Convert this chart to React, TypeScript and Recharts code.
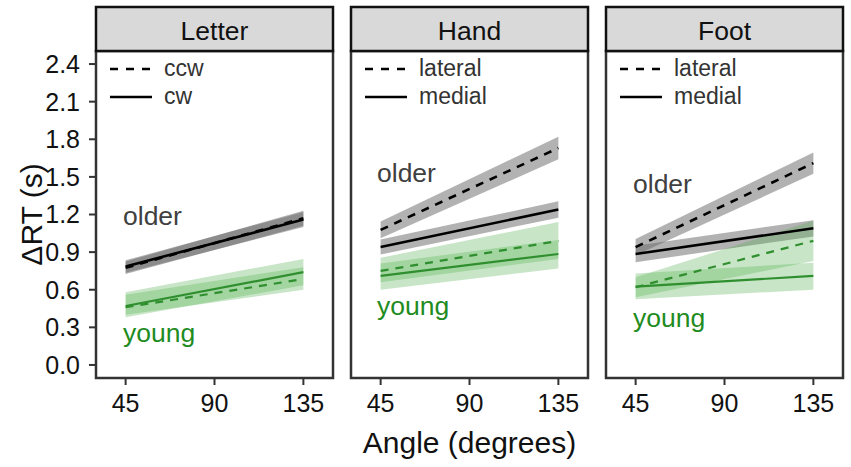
import React from 'react';
import { ComposedChart, Line, Area, XAxis, YAxis } from 'recharts';

const angles = [45, 135];
const xTicks = [45, 90, 135];
const yTicks = [0, 0.3, 0.6, 0.9, 1.2, 1.5, 1.8, 2.1, 2.4];
const panelNames = ['Letter', 'Hand', 'Foot'];
const legendDashed = ['ccw', 'lateral', 'lateral'];
const legendSolid = ['cw', 'medial', 'medial'];

// Letter (dashed = ccw, solid = cw)
const letterOlderDash = [0.775, 1.17];
const letterOlderDashLo = [0.725, 1.11];
const letterOlderDashHi = [0.825, 1.23];
const letterOlderSolid = [0.785, 1.16];
const letterOlderSolidLo = [0.735, 1.10];
const letterOlderSolidHi = [0.835, 1.22];
const letterYoungDash = [0.46, 0.685];
const letterYoungDashLo = [0.40, 0.60];
const letterYoungDashHi = [0.56, 0.78];
const letterYoungSolid = [0.47, 0.74];
const letterYoungSolidLo = [0.38, 0.635];
const letterYoungSolidHi = [0.58, 0.845];

// Hand (dashed = lateral, solid = medial)
const handOlderDash = [1.077, 1.73];
const handOlderDashLo = [1.01, 1.64];
const handOlderDashHi = [1.145, 1.82];
const handOlderSolid = [0.94, 1.24];
const handOlderSolidLo = [0.88, 1.175];
const handOlderSolidHi = [1.0, 1.305];
const handYoungDash = [0.75, 0.99];
const handYoungDashLo = [0.66, 0.845];
const handYoungDashHi = [0.855, 1.14];
const handYoungSolid = [0.71, 0.885];
const handYoungSolidLo = [0.60, 0.77];
const handYoungSolidHi = [0.81, 0.997];

// Foot (dashed = lateral, solid = medial)
const footOlderDash = [0.94, 1.61];
const footOlderDashLo = [0.875, 1.525];
const footOlderDashHi = [1.005, 1.695];
const footOlderSolid = [0.885, 1.09];
const footOlderSolidLo = [0.82, 1.025];
const footOlderSolidHi = [0.95, 1.155];
const footYoungDash = [0.62, 0.99];
const footYoungDashLo = [0.54, 0.83];
const footYoungDashHi = [0.70, 1.15];
const footYoungSolid = [0.625, 0.71];
const footYoungSolidLo = [0.525, 0.60];
const footYoungSolidHi = [0.73, 0.815];

type Series = Record<string, number[]>;
const buildRows = (s: Series) =>
  angles.map((a, i) => {
    const row: Record<string, number> = { angle: a };
    Object.keys(s).forEach((k) => (row[k] = s[k][i]));
    return row;
  });

const panelData = [
  buildRows({
    od: letterOlderDash, odLo: letterOlderDashLo, odHi: letterOlderDashHi,
    os: letterOlderSolid, osLo: letterOlderSolidLo, osHi: letterOlderSolidHi,
    yd: letterYoungDash, ydLo: letterYoungDashLo, ydHi: letterYoungDashHi,
    ys: letterYoungSolid, ysLo: letterYoungSolidLo, ysHi: letterYoungSolidHi,
  }),
  buildRows({
    od: handOlderDash, odLo: handOlderDashLo, odHi: handOlderDashHi,
    os: handOlderSolid, osLo: handOlderSolidLo, osHi: handOlderSolidHi,
    yd: handYoungDash, ydLo: handYoungDashLo, ydHi: handYoungDashHi,
    ys: handYoungSolid, ysLo: handYoungSolidLo, ysHi: handYoungSolidHi,
  }),
  buildRows({
    od: footOlderDash, odLo: footOlderDashLo, odHi: footOlderDashHi,
    os: footOlderSolid, osLo: footOlderSolidLo, osHi: footOlderSolidHi,
    yd: footYoungDash, ydLo: footYoungDashLo, ydHi: footYoungDashHi,
    ys: footYoungSolid, ysLo: footYoungSolidLo, ysHi: footYoungSolidHi,
  }),
];

// layout
const W = 851;
const H = 467;
const panelLeft = [96, 351, 606];
const panelRight = [333, 588, 843];
const plotTop = 51;
const plotBottom = 378;
const stripTop = 7;
const xAxisH = 30;
const yAxisW = 60;
const FONT = '"Liberation Sans", Arial, Helvetica, sans-serif';

const olderLabelPos = [
  [123, 225],
  [377, 182],
  [633, 193],
];
const youngLabelPos = [
  [123, 342],
  [377, 315],
  [633, 327],
];

const GRAY_FILL = '#666666';
const GREEN_FILL = '#4daf4a';
const GREEN_LINE = '#2f8f2f';
const GREEN_TEXT = '#1f8c1f';
const DASH = '8 7';

function Panel({ i }: { i: number }) {
  const data = panelData[i];
  const L = panelLeft[i];
  const R = panelRight[i];
  const margin = {
    top: plotTop,
    bottom: H - plotBottom - xAxisH,
    left: i === 0 ? L - yAxisW : L,
    right: W - R,
  };
  return (
    <div style={{ position: 'absolute', left: 0, top: 0 }}>
      <ComposedChart width={W} height={H} data={data} margin={margin}>
        <XAxis
          dataKey="angle"
          type="number"
          domain={[30, 150]}
          ticks={xTicks}
          interval={0}
          allowDataOverflow
          height={xAxisH}
          axisLine={false}
          tickSize={7}
          tickMargin={9}
          tickLine={{ stroke: '#333', strokeWidth: 2 }}
          tick={{ fill: '#111', fontSize: 25, fontFamily: FONT }}
        />
        <YAxis
          type="number"
          domain={[-0.104, 2.504]}
          ticks={yTicks}
          interval={0}
          allowDataOverflow
          hide={i !== 0}
          width={yAxisW}
          axisLine={false}
          tickSize={7}
          tickMargin={9}
          tickLine={{ stroke: '#333', strokeWidth: 2 }}
          tick={{ fill: '#111', fontSize: 25, fontFamily: FONT }}
          tickFormatter={(v: number) => v.toFixed(1)}
        />
        <Area type="linear" dataKey={(d: any) => [d.odLo, d.odHi]} stroke="none" fill={GRAY_FILL} fillOpacity={0.5} isAnimationActive={false} />
        <Area type="linear" dataKey={(d: any) => [d.osLo, d.osHi]} stroke="none" fill={GRAY_FILL} fillOpacity={0.5} isAnimationActive={false} />
        <Area type="linear" dataKey={(d: any) => [d.ydLo, d.ydHi]} stroke="none" fill={GREEN_FILL} fillOpacity={0.31} isAnimationActive={false} />
        <Area type="linear" dataKey={(d: any) => [d.ysLo, d.ysHi]} stroke="none" fill={GREEN_FILL} fillOpacity={0.31} isAnimationActive={false} />
        <Line type="linear" dataKey="od" stroke="#000" strokeWidth={2.6} strokeDasharray={DASH} dot={false} isAnimationActive={false} />
        <Line type="linear" dataKey="os" stroke="#000" strokeWidth={2.6} dot={false} isAnimationActive={false} />
        <Line type="linear" dataKey="yd" stroke={GREEN_LINE} strokeWidth={2.2} strokeDasharray={DASH} dot={false} isAnimationActive={false} />
        <Line type="linear" dataKey="ys" stroke={GREEN_LINE} strokeWidth={2.2} dot={false} isAnimationActive={false} />
      </ComposedChart>
    </div>
  );
}

function Overlay() {
  return (
    <svg width={W} height={H} style={{ position: 'absolute', left: 0, top: 0, pointerEvents: 'none' }}>
      {panelNames.map((name, i) => {
        const L = panelLeft[i];
        const R = panelRight[i];
        return (
          <g key={name} fontFamily={FONT}>
            <rect x={L} y={plotTop} width={R - L} height={plotBottom - plotTop} fill="none" stroke="#333" strokeWidth={2.5} />
            <rect x={L} y={stripTop} width={R - L} height={plotTop - stripTop} fill="#d9d9d9" stroke="#111" strokeWidth={2.5} />
            <text x={(L + R) / 2} y={39.5} textAnchor="middle" fontSize={26.5} fill="#111">{name}</text>
            <line x1={L + 14} x2={L + 54} y1={69} y2={69} stroke="#000" strokeWidth={2.5} strokeDasharray="8 8" />
            <line x1={L + 14} x2={L + 56} y1={97} y2={97} stroke="#000" strokeWidth={2.5} />
            <text x={L + 68} y={76} fontSize={23} fill="#333">{legendDashed[i]}</text>
            <text x={L + 68} y={104} fontSize={23} fill="#333">{legendSolid[i]}</text>
            <text x={olderLabelPos[i][0]} y={olderLabelPos[i][1]} fontSize={26.5} fill="#404040">older</text>
            <text x={youngLabelPos[i][0]} y={youngLabelPos[i][1]} fontSize={26.5} fill={GREEN_TEXT}>young</text>
          </g>
        );
      })}
      <text x={(panelLeft[0] + panelRight[2]) / 2} y={453} textAnchor="middle" fontSize={30} fontFamily={FONT} fill="#111">Angle (degrees)</text>
      <text transform={`translate(42, ${(plotTop + plotBottom) / 2}) rotate(-90)`} textAnchor="middle" fontSize={30} fontFamily={FONT} fill="#111">ΔRT (s)</text>
    </svg>
  );
}

export default function App() {
  return (
    <div style={{ position: 'absolute', left: 0, top: 0, width: W, height: H, background: '#fff' }}>
      {[0, 1, 2].map((i) => (
        <Panel key={i} i={i} />
      ))}
      <Overlay />
    </div>
  );
}
